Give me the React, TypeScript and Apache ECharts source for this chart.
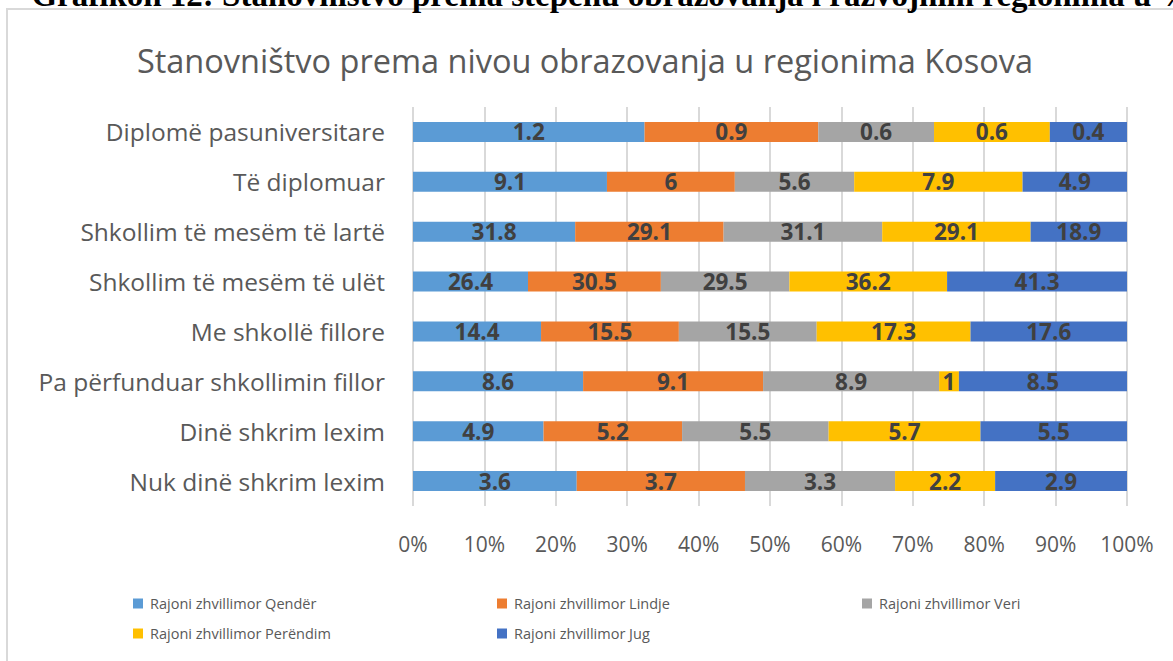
import React, { useEffect, useRef } from "react";
import * as echarts from "echarts";

const categories = [
  "Diplomë pasuniversitare",
  "Të diplomuar",
  "Shkollim të mesëm të lartë",
  "Shkollim të mesëm të ulët",
  "Me shkollë fillore",
  "Pa përfunduar shkollimin fillor",
  "Dinë shkrim lexim",
  "Nuk dinë shkrim lexim",
];

const seriesNames = [
  "Rajoni zhvillimor Qendër",
  "Rajoni zhvillimor Lindje",
  "Rajoni zhvillimor Veri",
  "Rajoni zhvillimor Perëndim",
  "Rajoni zhvillimor Jug",
];

const qender = [1.2, 9.1, 31.8, 26.4, 14.4, 8.6, 4.9, 3.6];
const lindje = [0.9, 6, 29.1, 30.5, 15.5, 9.1, 5.2, 3.7];
const veri = [0.6, 5.6, 31.1, 29.5, 15.5, 8.9, 5.5, 3.3];
const perendim = [0.6, 7.9, 29.1, 36.2, 17.3, 1, 5.7, 2.2];
const jug = [0.4, 4.9, 18.9, 41.3, 17.6, 8.5, 5.5, 2.9];

const seriesValues = [qender, lindje, veri, perendim, jug];
const colors = ["#5B9BD5", "#ED7D31", "#A5A5A5", "#FFC000", "#4472C4"];

const headerText =
  "Grafikon 12: Stanovništvo prema stepenu obrazovanja i razvojnim regionima u %";
const titleText = "Stanovništvo prema nivou obrazovanja u regionima Kosova";

const FONT = "Open Sans";

export default function App() {
  const ref = useRef<HTMLDivElement>(null);

  useEffect(() => {
    if (!ref.current) return;
    const chart = echarts.init(ref.current, undefined, { renderer: "svg" });

    const totals = categories.map((_, i) =>
      seriesValues.reduce((s, arr) => s + arr[i], 0)
    );

    const series = seriesValues.map((arr, si) => ({
      name: seriesNames[si],
      type: "bar",
      stack: "total",
      barWidth: 20,
      itemStyle: { color: colors[si] },
      label: {
        show: true,
        position: "inside",
        color: "#404040",
        fontFamily: FONT,
        fontWeight: "bold",
        fontSize: 22.5,
        formatter: (p: any) => String(arr[p.dataIndex]),
      },
      data: arr.map((v, i) => (v / totals[i]) * 100),
    }));

    const legendPos = [
      { left: 133, top: 596 },
      { left: 497, top: 596 },
      { left: 862, top: 596 },
      { left: 133, top: 626 },
      { left: 497, top: 626 },
    ];

    chart.setOption({
      animation: false,
      title: {
        text: titleText,
        left: 580,
        top: 39,
        textAlign: "center",
        textStyle: {
          fontFamily: FONT,
          fontWeight: "normal",
          fontSize: 32.5,
          color: "#595959",
        },
      },
      graphic: [
        {
          type: "rect",
          shape: { x: 7, y: 9, width: 1300, height: 800 },
          style: { fill: "none", stroke: "#d9d9d9", lineWidth: 2 },
          z: -1,
        },
        {
          type: "text",
          x: 612,
          y: 11,
          style: {
            text: headerText,
            textAlign: "center",
            textVerticalAlign: "bottom",
            fontFamily: "Liberation Serif",
            fontWeight: "bold",
            fontSize: 33,
            fill: "#000000",
          },
        },
      ],
      legend: seriesNames.map((n, i) => ({
        data: [n],
        left: legendPos[i].left,
        top: legendPos[i].top,
        padding: 0,
        itemWidth: 10,
        itemHeight: 10,
        itemGap: 0,
        icon: "rect",
        selectedMode: false,
        textStyle: { fontFamily: FONT, fontSize: 14.5, color: "#595959", padding: [0, 0, 0, 2] },
      })),
      grid: { left: 413, right: 46, top: 107, bottom: 155, containLabel: false },
      xAxis: {
        type: "value",
        min: 0,
        max: 100,
        interval: 10,
        axisLine: { show: false },
        axisTick: { show: false },
        splitLine: { show: true, lineStyle: { color: "#d9d9d9", width: 2 } },
        axisLabel: {
          formatter: "{value}%",
          fontFamily: FONT,
          fontSize: 21,
          color: "#595959",
          margin: 27,
        },
      },
      yAxis: {
        type: "category",
        inverse: true,
        data: categories,
        axisLine: { show: false },
        axisTick: { show: false },
        axisLabel: {
          fontFamily: FONT,
          fontSize: 24.5,
          color: "#595959",
          margin: 28,
        },
      },
      series,
    });

    return () => chart.dispose();
  }, []);

  return (
    <div
      ref={ref}
      style={{ position: "absolute", left: 0, top: 0, width: 1173, height: 661, background: "#fff" }}
    />
  );
}
